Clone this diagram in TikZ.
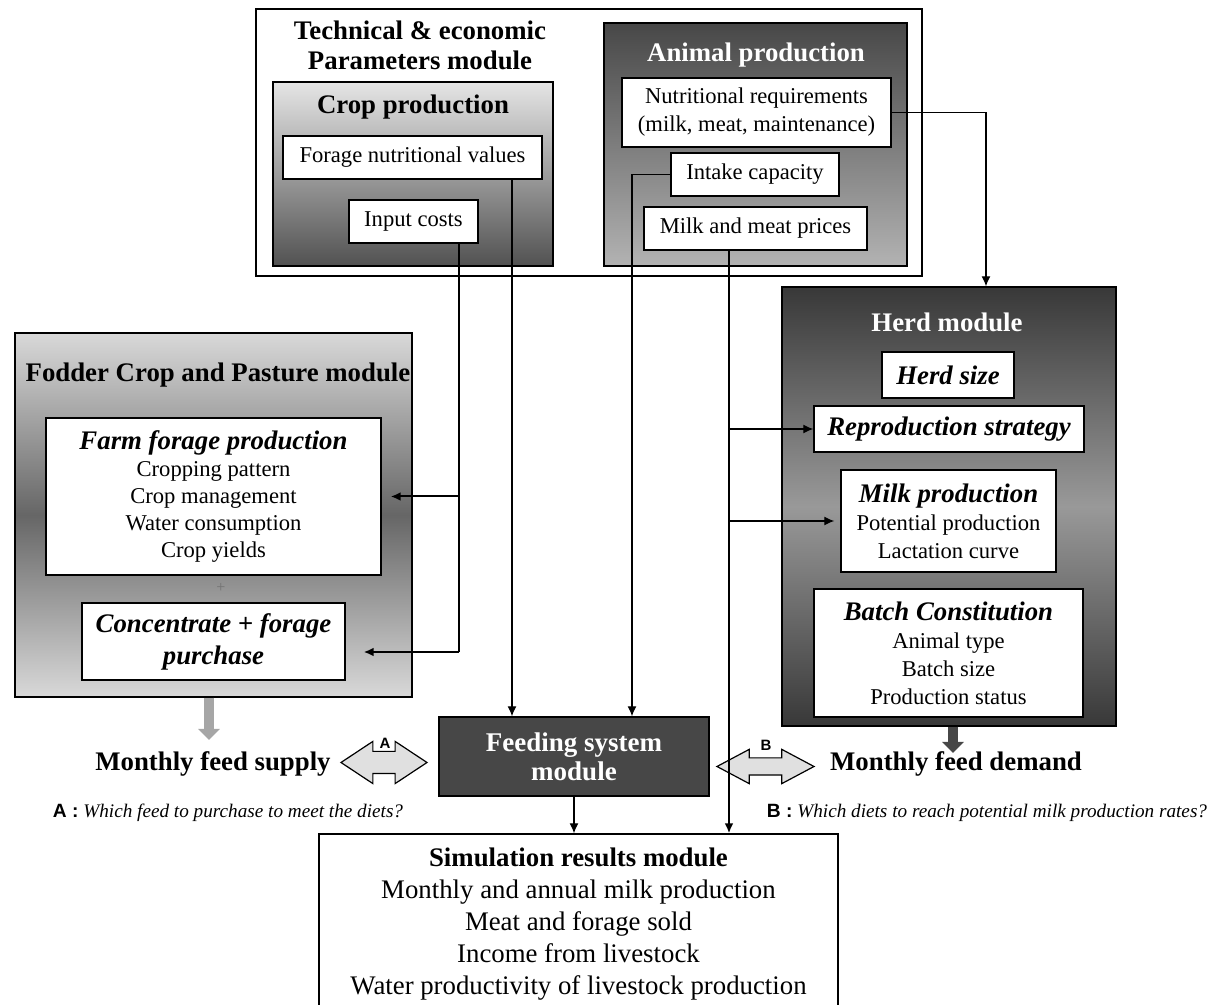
\documentclass[tikz,border=0pt]{standalone}
\usepackage{fontspec}
\setmainfont{Liberation Serif}
\newfontfamily\labelfont{Liberation Sans}
\usetikzlibrary{arrows.meta,shapes.arrows}
\newcommand{\bihead}{\fontsize{13.4}{14}\selectfont\bfseries\itshape}

\begin{document}
\begin{tikzpicture}[x=0.5pt, y=-0.5pt, line width=0.6pt, >={Latex[length=5pt,width=4.5pt]},
        every node/.append style={inner sep=0pt, align=center},
        box/.style={draw, line width=0.7pt, fill=white, font=\fontsize{11.3}{14}\selectfont},
        shadebox/.style={draw, line width=0.7pt},
        title/.style={font=\fontsize{13.4}{15}\selectfont\bfseries},
        big/.style={font=\fontsize{13.4}{15}\selectfont\bfseries},
        bi/.style={font=\bihead},
        thick link/.style={line width=1pt},
        swap/.style={shape=double arrow, draw, fill=black!12, line width=0.6pt, minimum width=0pt, inner xsep=0pt},
        fat/.style={line width=5pt, -{Triangle[length=5.5pt,width=10.5pt]}}]
      \tikzstyle{question} = [font=\fontsize{9.6}{11}\selectfont]
      \useasboundingbox (0,0) rectangle (1207,1005);
      \node (param) [draw, line width=0.7pt, minimum width=333pt, minimum height=133.5pt] at (589,142.5) {};
      \node (paramtitle) [title] at (420,45) {Technical \& economic\\Parameters module};
      \node (crop) [shadebox, top color=black!10, bottom color=black!68, minimum width=140pt, minimum height=92pt] at (413,174) {};
      \node (croptitle) [title] at (413,107) {Crop production};
      \node (forage) [box, minimum width=129.5pt, minimum height=21.5pt] at (412.5,157.5) {Forage nutritional values};
      \node (costs) [box, minimum width=64.5pt, minimum height=21.5pt] at (413.5,221.5) {Input costs};
      \node (animal) [shadebox, top color=black!72, bottom color=black!30, minimum width=151.5pt, minimum height=121.5pt] at (755.5,144.5) {};
      \node (animaltitle) [title, text=white] at (756,55) {Animal production};
      \node (needs) [box, minimum width=134.5pt, minimum height=34.5pt] at (756.5,112.5) {Nutritional requirements\\(milk, meat, maintenance)};
      \node (intake) [box, minimum width=84pt, minimum height=21.5pt] at (755,174.5) {Intake capacity};
      \node (prices) [box, minimum width=111.5pt, minimum height=21.5pt] at (755.5,228.5) {Milk and meat prices};

      \node (fodder) [shadebox, top color=black!15, bottom color=black!15, middle color=black!60, minimum width=198.5pt, minimum height=182pt] at (213.5,515) {};
      \node (foddertitle) [title] at (218,375) {Fodder Crop and Pasture module};
      \node (farm) [box, font=\fontsize{11.3}{13.5}\selectfont, minimum width=167.5pt, minimum height=78.5pt] at (213.5,496.5)
        {{\bihead Farm forage production}\\Cropping pattern\\Crop management\\Water consumption\\Crop yields};
      \node (plus) [font=\fontsize{8}{8}\selectfont, text=black!55] at (221,588) {+};
      \node (conc) [box, font=\fontsize{13.4}{16}\selectfont\bfseries\itshape, minimum width=131.5pt, minimum height=38.5pt] at (213.5,641.5) {Concentrate + forage\\purchase};

      \node (herd) [shadebox, top color=black!78, bottom color=black!78, middle color=black!40, minimum width=167pt, minimum height=219.5pt] at (949,506.5) {};
      \node (herdtitle) [title, text=white] at (947,322) {Herd module};
      \node (size) [box, bi, minimum width=66pt, minimum height=23pt] at (948,375) {Herd size};
      \node (repro) [box, bi, minimum width=135pt, minimum height=23pt] at (949,429) {Reproduction strategy};
      \node (milk) [box, minimum width=107.5pt, minimum height=51pt] at (948.5,521) {{\bihead Milk production}\\Potential production\\Lactation curve};
      \node (batch) [box, minimum width=134.5pt, minimum height=64pt] at (948.5,653) {{\bihead Batch Constitution}\\Animal type\\Batch size\\Production status};

      \node (feed) [draw, line width=0.7pt, fill=black!72, text=white, font=\fontsize{13.5}{14.5}\selectfont\bfseries, minimum width=135pt, minimum height=39.5pt] at (574,756.5) {Feeding system\\module};
      \node (supply) [big] at (213,764) {Monthly feed supply};
      \node (demand) [big] at (956,764) {Monthly feed demand};
      \node (swapA) [swap, minimum height=43pt, inner ysep=5.25pt, double arrow head extend=5pt, double arrow tip angle=67] at (384,762.5) {};
      \node (swapB) [swap, minimum height=48.5pt, inner ysep=4pt, double arrow head extend=4.25pt, double arrow tip angle=56] at (765.5,766.5) {};
      \node (labelA) [font=\labelfont\fontsize{7.5}{8}\selectfont\bfseries] at (385,743) {A};
      \node (labelB) [font=\labelfont\fontsize{7.5}{8}\selectfont\bfseries] at (766,745) {B};
      \node (qa) [question] at (228,813) {{\labelfont\bfseries A :} \textit{Which feed to purchase to meet the diets?}};
      \node (qb) [question] at (987,813) {{\labelfont\bfseries B :} \textit{Which diets to reach potential milk production rates?}};
      \node (sim) [box, font=\fontsize{13.4}{16}\selectfont, minimum width=259.5pt, minimum height=90.5pt] at (578.5,924.5)
        {\textbf{Simulation results module}\\Monthly and annual milk production\\Meat and forage sold\\Income from livestock\\Water productivity of livestock production};

      \coordinate (cbend) at (459,652);
      \coordinate (fline) at (512,0);
      \coordinate (iline) at (632,0);
      \coordinate (pline) at (729,0);
      \coordinate (supplytip) at (209,740);
      \coordinate (demandtip) at (953,753);
      \draw[->] (needs.east) -| ([xshift=18.5pt]herd.north);
      \draw[thick link] (costs.south -| cbend) -- (cbend);
      \draw[thick link, ->, shorten >=9pt] (cbend) -- (conc.east |- cbend);
      \draw[thick link, ->, shorten >=4.5pt] (cbend |- farm.east) -- (farm.east);
      \draw[->] (forage.south -| fline) -- (feed.north -| fline);
      \draw[->] (intake.west) -| (feed.north -| iline);
      \draw[thick link, ->] (prices.south -| pline) -- (sim.north -| pline);
      \draw[->] (pline |- repro.west) -- (repro.west);
      \draw[->, shorten >=3pt] (pline |- milk.west) -- (milk.west);
      \draw[->] (feed.south) -- (sim.north -| feed.south);
      \draw[fat, draw=black!35] (fodder.south -| supplytip) -- (supplytip);
      \draw[fat, draw=black!72] (herd.south -| demandtip) -- (demandtip);
    \end{tikzpicture}
\end{document}
